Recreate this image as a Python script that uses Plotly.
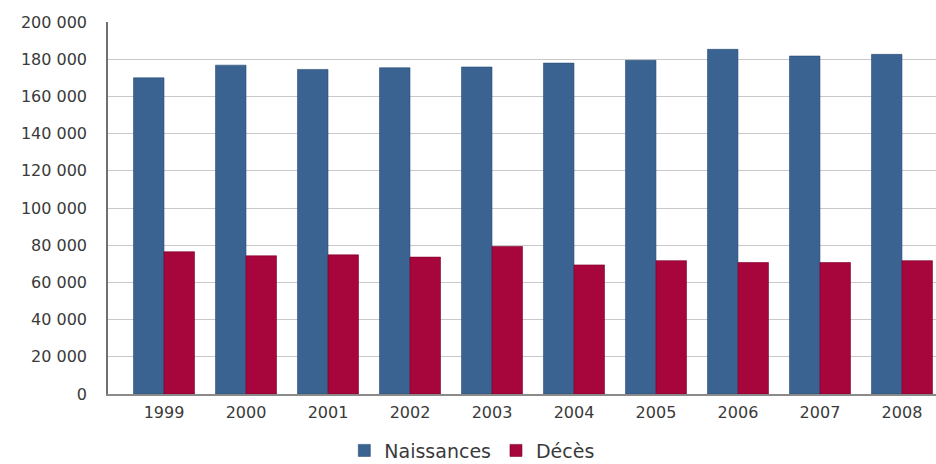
import plotly.graph_objects as go

years = ["1999", "2000", "2001", "2002", "2003", "2004", "2005", "2006", "2007", "2008"]
naissances = [170000, 176800, 174500, 175400, 175800, 177900, 179400, 185300, 181700, 182600]
deces = [76500, 74300, 74800, 73600, 79300, 69400, 71700, 70700, 70700, 71700]
y_ticks = list(range(0, 200001, 20000))
y_tick_text = ["0" if v == 0 else f"{v // 1000} 000" for v in y_ticks]

fig = go.Figure()
fig.add_trace(go.Bar(x=years, y=naissances, name="Naissances",
                     marker=dict(color="#3a6391", line=dict(color="#2b4d75", width=0.6))))
fig.add_trace(go.Bar(x=years, y=deces, name="Décès",
                     marker=dict(color="#a6063b", line=dict(color="#7e0029", width=0.6))))

fig.update_layout(
    width=936, height=464,
    margin=dict(l=108, r=0, t=22, b=70, autoexpand=False),
    paper_bgcolor="white", plot_bgcolor="white",
    barmode="group", bargap=0.256, bargroupgap=0,
    font=dict(family="DejaVu Sans", size=16, color="#3a3a3a"),
    showlegend=True,
    legend=dict(orientation="h", x=0.44, xanchor="center", y=-0.152, yanchor="middle",
                font=dict(size=19, color="#3a3a3a"), itemclick=False, bgcolor="rgba(0,0,0,0)",
                borderwidth=0),
)
fig.update_xaxes(type="category", range=[-0.683, 9.415], showgrid=False,
                 showline=True, linecolor="#8a8a8a", linewidth=1.5,
                 ticks="", ticklabelstandoff=3, tickfont=dict(size=16))
fig.update_yaxes(range=[0, 200000], tickvals=y_ticks, ticktext=y_tick_text,
                 showgrid=True, gridcolor="#c9c9c9", gridwidth=1,
                 showline=True, linecolor="#707070", linewidth=1.5,
                 ticks="", ticklabelstandoff=16, tickfont=dict(size=16), zeroline=False)

fig.write_html("out.html")
